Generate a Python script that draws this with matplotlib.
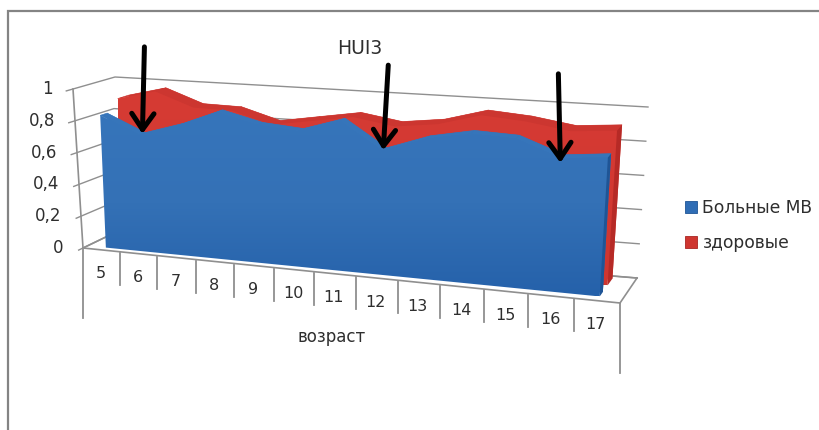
import numpy as np
import matplotlib
matplotlib.use('Agg')
import matplotlib.pyplot as plt
from matplotlib.colors import LinearSegmentedColormap
from matplotlib.patches import Patch, Polygon

ages = [5, 6, 7, 8, 9, 10, 11, 12, 13, 14, 15, 16, 17]
patients = [0.83, 0.725, 0.80, 0.90, 0.84, 0.82, 0.90, 0.74, 0.83, 0.88, 0.87, 0.775, 0.80]
healthy = [0.90, 0.96, 0.875, 0.87, 0.80, 0.84, 0.88, 0.84, 0.87, 0.94, 0.92, 0.88, 0.90]
value_ticks = [0, 0.2, 0.4, 0.6, 0.8, 1]
value_labels = ['0', '0,2', '0,4', '0,6', '0,8', '1']
arrow_ages = [6, 12, 16]

# corners of the 3D box on the page: (age axis, value, depth)
BOX = {
    (0, 0, 0): (83, 248), (1, 0, 0): (620, 303),
    (0, 1, 0): (73, 89), (1, 1, 0): (631, 128),
    (0, 0, 1): (110, 235), (1, 0, 1): (637, 278),
    (0, 1, 1): (115, 77), (1, 1, 1): (648, 107),
}
SQUEEZE = -0.116
GRID = '#8f8f8f'
TEXT = '#2e2e2e'


def project(t, v, d):
    # trilinear box mapping, with some foreshortening along the age axis
    t, v, d = np.broadcast_arrays(np.asarray(t, float), np.asarray(v, float), np.asarray(d, float))
    s = (1 + SQUEEZE) * t / (1 + SQUEEZE * t)
    x = np.zeros(s.shape)
    y = np.zeros(s.shape)
    for (a, b, c), (px, py) in BOX.items():
        w = (s if a else 1 - s) * (v if b else 1 - v) * (d if c else 1 - d)
        x = x + w * px
        y = y + w * py
    return x, y


def age_pos(k):
    return (np.asarray(k, float) + 0.5) / len(ages)


def grad_fill(ax, xy, cmap, zorder):
    # vertical gradient clipped to a polygon
    xy = np.asarray(xy)
    im = ax.imshow(np.linspace(0, 1, 128).reshape(-1, 1), cmap=cmap, aspect='auto', zorder=zorder,
                   extent=(xy[:, 0].min(), xy[:, 0].max(), xy[:, 1].max(), xy[:, 1].min()),
                   interpolation='bilinear')
    clip = Polygon(xy, closed=True, transform=ax.transData, facecolor='none', edgecolor='none')
    ax.add_patch(clip)
    im.set_clip_path(clip)


def draw_area(ax, values, d0, d1, cmap, top_color, side_color, zorder):
    k = np.arange(len(values))
    t = age_pos(k)
    vals = np.asarray(values)

    def face(d):
        tx, ty = project(t, vals, d)
        bx, by = project(t[::-1], 0 * vals, d)
        return np.column_stack([np.r_[tx, bx], np.r_[ty, by]])

    grad_fill(ax, face(d1), cmap, zorder)
    for i in range(len(values) - 1):
        tt = [t[i], t[i + 1], t[i + 1], t[i]]
        vv = [vals[i], vals[i + 1], vals[i + 1], vals[i]]
        dd = [d0, d0, d1, d1]
        qx, qy = project(tt, vv, dd)
        ax.fill(qx, qy, color=top_color, lw=0.4, zorder=zorder + 0.1)
    grad_fill(ax, face(d0), cmap, zorder + 0.2)
    sx, sy = project([t[-1]] * 4, [vals[-1], vals[-1], 0, 0], [d0, d1, d1, d0])
    ax.fill(sx, sy, color=side_color, lw=0, zorder=zorder + 0.3)


plt.rcParams['font.family'] = ['DejaVu Sans']
fig = plt.figure(figsize=(8.19, 4.30), dpi=100)
ax = fig.add_axes([0, 0, 1, 1])

# outer frame: only left and top edges are there
ax.plot([7.5, 7.5, 819], [430, 10.5, 10.5], color='#848484', lw=1.6, zorder=1, solid_joinstyle='miter')

# walls and floor
for v in value_ticks:
    lx, ly = project([0, 0, 1], [v, v, v], [-0.16, 1, 1])
    ax.plot(lx, ly, color=GRID, lw=1, zorder=2)
for lo, hi in [((0, 0, 0), (0, 1, 0)), ((0, 0, 0), (1, 0, 0)), ((1, 0, 0), (1, 0, 1)), ((0, 0, 0), (0, 0, 1)),
               ((0, 0, 1), (1, 0, 1))]:
    lx, ly = project(*zip(lo, hi))
    ax.plot(lx, ly, color=GRID, lw=1.2, zorder=2)

blue_map = LinearSegmentedColormap.from_list('blue_area', ['#3675bb', '#3471b6', '#2561aa'])
red_map = LinearSegmentedColormap.from_list('red_area', ['#d63b34', '#cf3630'])
draw_area(ax, healthy, 0.62, 0.9, red_map, '#cc3630', '#b62a26', 3)
draw_area(ax, patients, 0.17, 0.35, blue_map, '#3675ba', '#1f5596', 4)

# age axis ticks and labels
for i in range(len(ages) + 1):
    tx, ty = project(i / len(ages), 0, 0)
    drop = 70 if i in (0, len(ages)) else 33
    ax.plot([tx, tx], [ty + 1, ty + drop], color=GRID, lw=1.3, zorder=2)
for k, age in enumerate(ages):
    tx, ty = project(age_pos(k), 0, 0)
    ax.text(tx - 1, ty + 24, str(age), ha='center', va='center', fontsize=11.5, color=TEXT)

# value axis labels
for v, lab in zip(value_ticks, value_labels):
    tx, ty = project(0, v, 0)
    ax.text(tx - 20, ty, lab, ha='right', va='center', fontsize=12, color=TEXT)

ax.text(332, 337, 'возраст', ha='center', va='center', fontsize=12, color=TEXT)
ax.text(360, 48, 'HUI3', ha='center', va='center', fontsize=13.5, color=TEXT)

# arrows pointing at the dips of the patient curve
tip_shift = [(6, -2), (3, -2), (1, 3)]
tail_shift = [(2, -87), (5, -85), (-2, -89)]
for age, (sx, sy), (dx, dy) in zip(arrow_ages, tip_shift, tail_shift):
    k = ages.index(age)
    tx, ty = project(age_pos(k), patients[k], 0.1)
    tip = (tx + sx, ty + sy)
    ax.annotate('', xy=tip, xytext=(tip[0] + dx, tip[1] + dy), zorder=6,
                arrowprops=dict(arrowstyle='->,head_length=11.5,head_width=8', mutation_scale=1,
                                lw=3.6, color='black', shrinkA=0, shrinkB=0))

handles = [Patch(facecolor='#2f6db5', edgecolor='#1f5596', lw=0.6, label='Больные МВ'),
           Patch(facecolor='#cf3630', edgecolor='#a82522', lw=0.6, label='здоровые')]
ax.legend(handles=handles, loc='upper left', bbox_to_anchor=(685, 199), bbox_transform=ax.transData,
          frameon=False, fontsize=12.3, labelcolor=TEXT, handlelength=0.72, handleheight=0.68,
          handletextpad=0.3, labelspacing=1.0, borderpad=0, borderaxespad=0)

ax.set_xlim(0, 819)
ax.set_ylim(430, 0)
ax.axis('off')
fig.savefig('out.png', dpi=100)
